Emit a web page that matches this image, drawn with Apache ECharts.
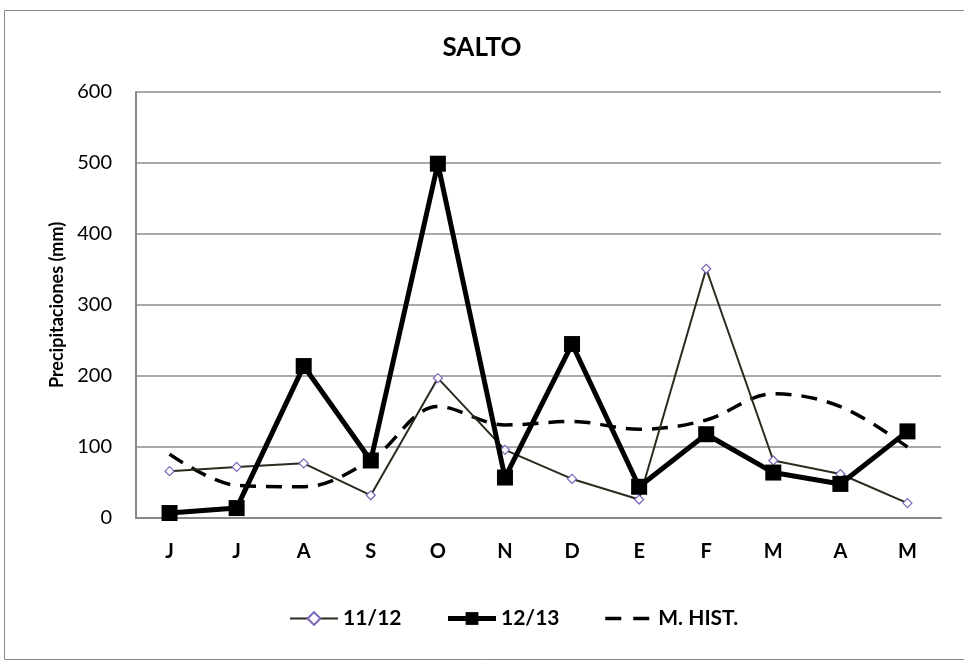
<!DOCTYPE html>
<html><head><meta charset="utf-8">
<script src="https://cdn.jsdelivr.net/npm/echarts@6/dist/echarts.min.js"></script>
<style>html,body{margin:0;padding:0;background:#fff}#c{width:964px;height:663px}</style>
</head><body><div id="c"></div>
<script>
const categories = ['J','J','A','S','O','N','D','E','F','M','A','M'];
const s1112 = [66, 72, 77, 32, 197, 96, 55, 26, 351, 81, 62, 21];
const s1213 = [7, 14, 214, 81, 499, 57, 245, 44, 118, 64, 48, 122];
const hist = [90, 46, 44, 82, 157, 131, 136, 125, 138, 175, 157, 100];
const font = 'Lato, "Open Sans", sans-serif';
const chart = echarts.init(document.getElementById('c'));
chart.setOption({
  animation: false,
  backgroundColor: '#fff',
  graphic: [{type:'rect', shape:{x:4.5,y:10.5,width:980,height:649}, style:{fill:'none', stroke:'#888', lineWidth:1}, z:-1}],
  title: {text:'SALTO', left:'center', top:30, textStyle:{fontFamily:font, fontWeight:'bold', fontSize:26, color:'#000'}},
  grid: {left:136, right:23, top:92, bottom:145},
  legend: {
    top: 603, left: 284, itemWidth: 48, itemHeight: 16, itemGap: 44,
    textStyle:{fontFamily:font, fontWeight:'bold', fontSize:21, color:'#000'},
    data:[
      {name:'11/12', lineStyle:{width:2, color:'#2a2a1e'}},
      {name:'12/13', lineStyle:{width:5, color:'#000'}},
      {name:'M. HIST.', itemStyle:{opacity:0}, lineStyle:{width:3.5, color:'#000', type:[16,12]}}
    ]
  },
  xAxis: {
    type:'category', data:categories, boundaryGap:true,
    axisLine:{lineStyle:{color:'#888', width:2}},
    axisTick:{show:false},
    axisLabel:{fontFamily:font, fontWeight:'bold', fontSize:20, color:'#000', margin:24}
  },
  yAxis: {
    type:'value', min:0, max:600, interval:100,
    name:'Precipitaciones (mm)', nameLocation:'middle', nameGap:64, nameRotate:90,
    nameTextStyle:{fontFamily:font, fontWeight:'bold', fontSize:18, color:'#000'},
    axisLine:{show:true, lineStyle:{color:'#888', width:2}},
    axisTick:{show:false},
    axisLabel:{fontFamily:font, fontSize:20, color:'#000', margin:24},
    splitLine:{lineStyle:{color:'#8c8c8c', width:1.5}}
  },
  series: [
    {name:'11/12', type:'line', data:s1112, symbol:'diamond', symbolSize:9,
     lineStyle:{color:'#2a2a1e', width:2}, itemStyle:{color:'#fff', borderColor:'#7b64b8', borderWidth:1.2}, z:3},
    {name:'12/13', type:'line', data:s1213, symbol:'rect', symbolSize:16,
     lineStyle:{color:'#000', width:5}, itemStyle:{color:'#000'}, z:4},
    {name:'M. HIST.', type:'line', data:hist, smooth:0.35, symbol:'none',
     lineStyle:{color:'#000', width:3.5, type:[16,10]}, itemStyle:{color:'#000'}, z:2}
  ]
});
</script></body></html>
